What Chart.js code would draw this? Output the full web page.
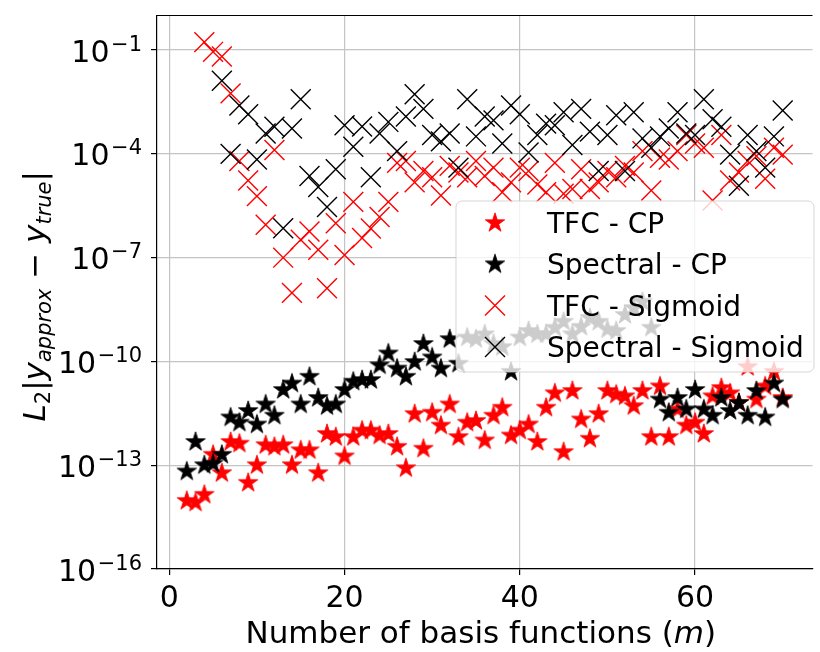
<!DOCTYPE html>
<html>
<head>
<meta charset="utf-8">
<script src="https://cdn.jsdelivr.net/npm/chart.js@4.4.1/dist/chart.umd.min.js"></script>
<style>
  html, body { margin: 0; padding: 0; background: #fff; }
  #wrap { width: 820px; height: 652px; overflow: hidden; position: relative; }
  canvas { display: block; }
</style>
</head>
<body>
<div id="wrap"><canvas id="errChart" width="828" height="652"></canvas></div>
<script>
// number of basis functions m
const basisCounts = [2, 3, 4, 5, 6, 7, 8, 9, 10, 11, 12, 13, 14, 15, 16, 17, 18, 19, 20,
  21, 22, 23, 24, 25, 26, 27, 28, 29, 30, 31, 32, 33, 34, 35, 36, 37, 38, 39, 40,
  41, 42, 43, 44, 45, 46, 47, 48, 49, 50, 51, 52, 53, 54, 55, 56, 57, 58, 59, 60,
  61, 62, 63, 64, 65, 66, 67, 68, 69, 70];

// L2 error, one value per m (null = not plotted)
const tfcCP = [9.3e-15, 8.3e-15, 1.4e-14, 2.0e-13, 5.9e-14, 4.7e-13, 4.2e-13, 3.1e-14, 1.0e-13,
  3.8e-13, 3.4e-13, 3.8e-13, 1.0e-13, 2.7e-13, 2.7e-13, 5.9e-14, 8.0e-13, 6.5e-13, 1.8e-13,
  6.5e-13, 1.0e-12, 1.0e-12, 7.2e-13, 8.0e-13, 3.4e-13, 8.2e-14, 3.0e-12, 3.0e-13, 3.3e-12,
  1.4e-12, 5.7e-12, 6.5e-13, 1.7e-12, 1.9e-12, 5.2e-13, 2.7e-12, 4.6e-12, 7.2e-13, 1.0e-12,
  1.5e-12, 4.7e-13, 4.6e-12, 1.2e-11, 2.4e-13, 1.4e-11, 2.1e-12, 5.8e-13, 3.0e-12, 1.4e-11,
  1.1e-11, 9.8e-12, 5.1e-12, 1.4e-11, 6.5e-13, 1.9e-11, 6.5e-13, 4.1e-12, 1.4e-12, 1.7e-12,
  8.0e-13, 9.8e-12, 1.7e-11, 1.2e-11, 6.3e-12, 6.9e-11, 7.9e-12, 1.9e-11, 5.0e-11, 8.8e-12];

const spectralCP = [6.6e-14, 4.7e-13, 1.0e-13, 1.1e-13, 2.0e-13, 2.4e-12, 1.7e-12, 3.7e-12, 1.5e-12,
  5.7e-12, 2.7e-12, 1.5e-11, 2.3e-11, 5.7e-12, 3.6e-11, 8.8e-12, 5.1e-12, 5.7e-12, 1.5e-11,
  2.6e-11, 2.9e-11, 2.9e-11, 7.7e-11, 1.7e-10, 6.2e-11, 3.6e-11, 9.6e-11, 3.2e-10, 1.3e-10,
  6.2e-11, 4.4e-10, 8.6e-11, 4.9e-10, 4.4e-10, 6.1e-10, 3.2e-10, 2.6e-10, 5.0e-11, 4.9e-10,
  7.6e-10, 6.1e-10, 6.1e-10, 9.4e-10, 1.4e-9, 6.1e-10, 1.0e-9, 1.8e-9, 1.4e-9, 8.4e-10,
  7.6e-10, 2.2e-9, 3.5e-9, 5.3e-9, 9.4e-10, 7.9e-12, 3.3e-12, 8.8e-12, 4.1e-12, 1.5e-11,
  4.1e-12, 2.7e-12, 8.8e-12, 3.7e-12, 6.3e-12, 2.7e-12, 1.4e-11, 2.4e-12, 2.3e-11, 7.9e-12];

const tfcSigmoid = [null, null, 1.7e-1, 8.9e-2, 6.5e-2, 5.6e-3, 6.2e-5, 1.7e-5, 6.0e-6,
  8.9e-7, 1.3e-4, 1.0e-7, 9.6e-9, 3.3e-7, 5.7e-7, 1.7e-7, 1.3e-8, 9.9e-7, 1.2e-7,
  4.1e-6, 3.7e-7, 7.0e-7, 1.5e-6, 4.1e-6, 5.5e-5, 6.2e-5, 1.5e-5, 3.2e-5, 2.1e-5,
  6.3e-6, 4.5e-5, 2.9e-5, 2.1e-5, 6.2e-5, 2.3e-5, 4.0e-5, 7.8e-6, 1.5e-5, 4.0e-5,
  3.2e-5, 1.3e-5, 7.8e-6, 5.5e-5, 7.0e-6, 9.7e-6, 3.6e-5, 9.7e-6, 1.5e-5, 3.2e-5,
  2.1e-5, 4.5e-5, 2.9e-5, 1.2e-4, 8.7e-6, 7.7e-5, 6.9e-5, 1.2e-4, 3.5e-4, 2.0e-4,
  1.5e-4, 4.5e-6, 3.5e-4, 1.7e-5, 2.9e-5, 6.2e-5, 8.6e-5, 1.9e-5, 1.5e-4, 9.5e-5];

const spectralSigmoid = [null, null, null, null, 1.3e-2, 1.0e-4, 2.5e-3, 1.4e-3, 6.9e-5,
  3.9e-4, 6.1e-4, 7.1e-7, 5.4e-4, 3.8e-3, 2.3e-5, 1.1e-5, 2.9e-6, 3.6e-5, 6.7e-4,
  1.6e-4, 6.2e-4, 2.1e-5, 3.9e-4, 8.4e-4, 1.2e-4, 1.2e-3, 5.3e-3, 2.0e-3, 3.5e-4,
  2.3e-4, 3.9e-4, 4.0e-5, 3.8e-3, 3.2e-4, 1.2e-3, 9.3e-4, 2.0e-4, 2.5e-3, 1.4e-3,
  1.1e-4, 3.5e-4, 7.5e-4, 6.7e-4, 1.6e-3, 1.8e-4, 2.0e-3, 4.4e-4, 3.2e-5, 3.5e-4,
  1.3e-3, 3.2e-5, 1.6e-3, 2.8e-4, 1.5e-4, 3.2e-4, 5.4e-4, 1.6e-3, 3.9e-4, 3.5e-4,
  3.8e-3, 1.0e-3, 6.1e-4, 9.5e-5, 1.2e-5, 3.5e-4, 1.2e-4, 4.0e-5, 3.2e-4, 1.8e-3];

const seriesLabels = ['TFC - CP', 'Spectral - CP', 'TFC - Sigmoid', 'Spectral - Sigmoid'];
const seriesColors = ['#ff0000', '#000000', '#ff0000', '#000000'];

// axis ticks
const xTickValues = [0, 20, 40, 60];
const yTickValues = [1e-16, 1e-13, 1e-10, 1e-7, 1e-4, 1e-1];

const FONT = '"DejaVu Sans", sans-serif';

// filled five-point star like matplotlib's '*'
function makeStar(color) {
    const c = document.createElement('canvas');
    c.width = 24; c.height = 24;
    const g = c.getContext('2d');
    const R = 10.2, r = R * 0.382;
    g.beginPath();
    for (let i = 0; i < 10; i++) {
        const rad = i % 2 === 0 ? R : r;
        const a = -Math.PI / 2 + i * Math.PI / 5;
        g.lineTo(12 + rad * Math.cos(a), 12 + rad * Math.sin(a));
    }
    g.closePath();
    g.fillStyle = color;
    g.fill();
    g.lineWidth = 0.8;
    g.strokeStyle = color;
    g.stroke();
    return c;
}

function toPoints(values) {
    return basisCounts
        .map((m, i) => ({ x: m, y: values[i] }))
        .filter(p => p.y !== null);
}

// axis titles, tick labels, top spine and legend
const decorPlugin = {
    id: 'decor',
    beforeDraw(chart) {
        const ctx = chart.ctx;
        ctx.save();
        ctx.fillStyle = '#fff';
        ctx.fillRect(0, 0, chart.width, chart.height);
        ctx.restore();
    },
    afterDraw(chart) {
        const ctx = chart.ctx;
        const area = chart.chartArea;
        const xs = chart.scales.x, ys = chart.scales.y;
        ctx.save();

        // top spine
        ctx.strokeStyle = '#000';
        ctx.lineWidth = 1.2;
        ctx.beginPath();
        ctx.moveTo(area.left, area.top);
        ctx.lineTo(area.right, area.top);
        ctx.stroke();

        ctx.fillStyle = '#000';
        ctx.textBaseline = 'alphabetic';

        // y tick labels 10^n
        ys.ticks.forEach(t => {
            const py = ys.getPixelForValue(t.value);
            const exp = Math.round(Math.log10(t.value));
            const sup = (exp < 0 ? '\u2212' : '') + Math.abs(exp);
            ctx.font = '30px ' + FONT;
            const w1 = ctx.measureText('10').width;
            ctx.font = '21px ' + FONT;
            const w2 = ctx.measureText(sup).width;
            const right = 142;
            ctx.textAlign = 'left';
            ctx.font = '30px ' + FONT;
            ctx.fillText('10', right - w2 - w1 - 1.5, py + 11.5);
            ctx.font = '21px ' + FONT;
            ctx.fillText(sup, right - w2, py + 0.5);
        });

        // x tick labels
        ctx.font = '30px ' + FONT;
        ctx.textAlign = 'center';
        xs.ticks.forEach(t => {
            ctx.fillText(String(t.value), xs.getPixelForValue(t.value), 607);
        });

        // x title with italic m
        const cx = (area.left + area.right) / 2 - 4;
        const xParts = [
            { text: 'Number of basis functions (', font: '31px ' + FONT },
            { text: 'm', font: 'italic 31px ' + FONT },
            { text: ')', font: '31px ' + FONT }
        ];
        drawParts(ctx, xParts, cx, 643);

        // y title, rotated
        ctx.save();
        ctx.translate(45, (area.top + area.bottom) / 2 + 4);
        ctx.rotate(-Math.PI / 2);
        const yParts = [
            { text: 'L', font: 'italic 31px ' + FONT },
            { text: '2', font: '21px ' + FONT, dy: 5 },
            { text: '|', font: '31px ' + FONT },
            { text: 'y', font: 'italic 31px ' + FONT },
            { text: 'approx', font: 'italic 21px ' + FONT, dy: 6 },
            { text: ' \u2212 ', font: '31px ' + FONT },
            { text: 'y', font: 'italic 31px ' + FONT },
            { text: 'true', font: 'italic 21px ' + FONT, dy: 6 },
            { text: '|', font: '31px ' + FONT }
        ];
        drawParts(ctx, yParts, 0, 0);
        ctx.restore();

        // legend box
        const box = { x: 456, y: 201, w: 358, h: 171 };
        ctx.beginPath();
        ctx.roundRect(box.x, box.y, box.w, box.h, 6);
        ctx.fillStyle = 'rgba(255,255,255,0.8)';
        ctx.fill();
        ctx.strokeStyle = 'rgba(204,204,204,0.8)';
        ctx.lineWidth = 1;
        ctx.stroke();

        ctx.font = '28px ' + FONT;
        ctx.textAlign = 'left';
        chart.data.datasets.forEach((ds, i) => {
            const rowY = 223 + i * 41.3;
            const style = ds.pointStyle;
            if (typeof style === 'string') {
                // 'crossRot' marker drawn as an x
                ctx.strokeStyle = ds.borderColor;
                ctx.lineWidth = ds.borderWidth;
                ctx.beginPath();
                ctx.moveTo(485, rowY - 10); ctx.lineTo(505, rowY + 10);
                ctx.moveTo(505, rowY - 10); ctx.lineTo(485, rowY + 10);
                ctx.stroke();
            } else {
                ctx.drawImage(style, 495 - style.width / 2, rowY - style.height / 2);
            }
            ctx.fillStyle = '#000';
            ctx.fillText(ds.label, 547, rowY + 10);
        });

        ctx.restore();
    }
};

function drawParts(ctx, parts, centerX, baseY) {
    let total = 0;
    parts.forEach(p => { ctx.font = p.font; p.w = ctx.measureText(p.text).width; total += p.w; });
    let x = centerX - total / 2;
    ctx.textAlign = 'left';
    parts.forEach(p => {
        ctx.font = p.font;
        ctx.fillText(p.text, x, baseY + (p.dy || 0));
        x += p.w;
    });
}

const gridStyle = {
    color: '#c4c4c4',
    lineWidth: 1.2,
    drawTicks: true,
    tickLength: 6,
    tickColor: '#000',
    tickWidth: 1.2
};

const ctx = document.getElementById('errChart').getContext('2d');
new Chart(ctx, {
    type: 'scatter',
    data: {
        datasets: [
            { label: seriesLabels[0], data: toPoints(tfcCP), pointStyle: makeStar(seriesColors[0]), pointRadius: 10, order: 3 },
            { label: seriesLabels[1], data: toPoints(spectralCP), pointStyle: makeStar(seriesColors[1]), pointRadius: 10, order: 2 },
            { label: seriesLabels[2], data: toPoints(tfcSigmoid), pointStyle: 'crossRot', pointRadius: 14.1,
              borderColor: seriesColors[2], backgroundColor: seriesColors[2], borderWidth: 1.4, order: 1 },
            { label: seriesLabels[3], data: toPoints(spectralSigmoid), pointStyle: 'crossRot', pointRadius: 14.1,
              borderColor: seriesColors[3], backgroundColor: seriesColors[3], borderWidth: 1.4, order: 0 }
        ]
    },
    options: {
        responsive: false,
        animation: false,
        devicePixelRatio: 1,
        events: [],
        layout: { padding: { top: 5, left: 0, right: 0, bottom: 0 } },
        plugins: {
            legend: { display: false },
            tooltip: { enabled: false }
        },
        scales: {
            x: {
                type: 'linear',
                min: -1.4,
                max: 73.4,
                afterBuildTicks: scale => { scale.ticks = xTickValues.map(v => ({ value: v })); },
                afterFit: scale => { scale.height = 83; },
                ticks: { autoSkip: false, callback: () => '' },
                grid: gridStyle,
                border: { display: true, color: '#000', width: 1.2 }
            },
            y: {
                type: 'logarithmic',
                min: 1e-16,
                max: 1,
                afterBuildTicks: scale => { scale.ticks = yTickValues.map(v => ({ value: v })); },
                afterFit: scale => { scale.width = 157; },
                ticks: { autoSkip: false, callback: () => '' },
                grid: gridStyle,
                border: { display: true, color: '#000', width: 1.2 }
            }
        }
    },
    plugins: [decorPlugin]
});
</script>
</body>
</html>
